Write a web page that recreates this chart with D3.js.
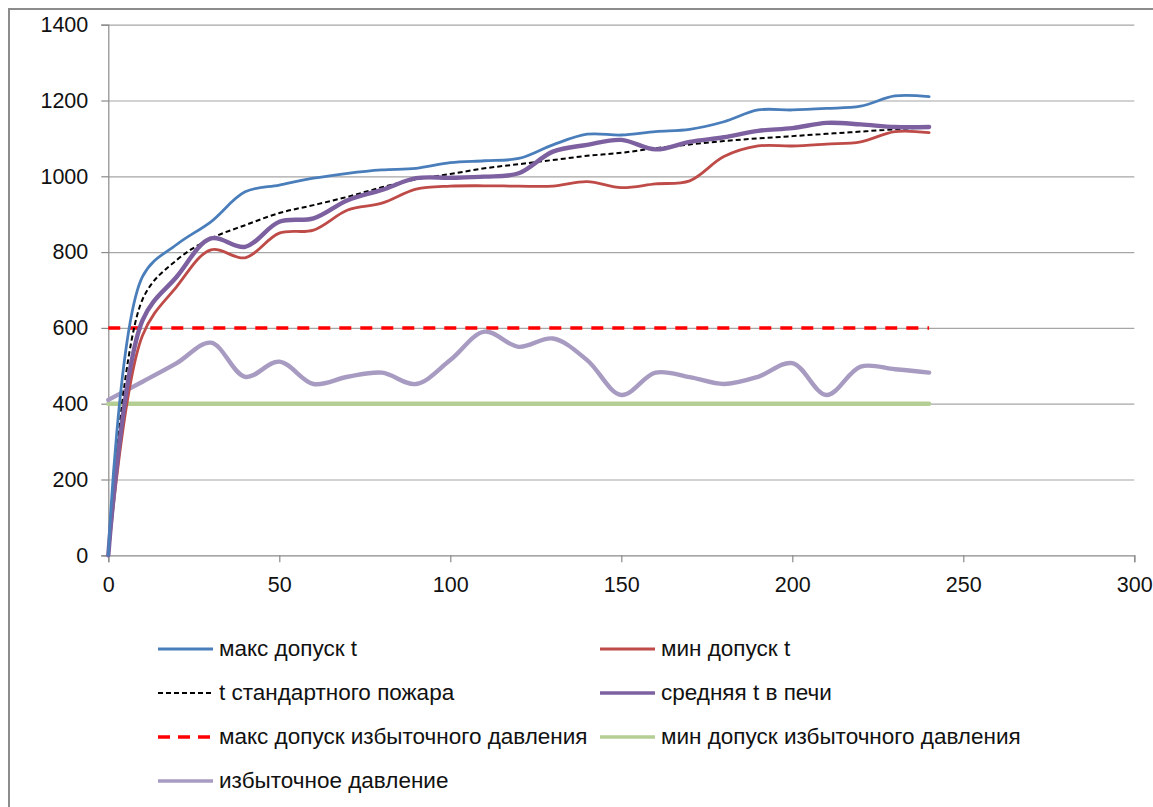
<!DOCTYPE html>
<html>
<head>
<meta charset="utf-8">
<script src="https://cdn.jsdelivr.net/npm/d3@7"></script>
<style>
  html, body { margin: 0; padding: 0; background: #fff; }
  svg { display: block; font-family: "Liberation Sans", Arial, sans-serif; }
</style>
</head>
<body>
<svg id="chart" width="1153" height="807"></svg>
<script>
// ---- data ----
const times = [0, 10, 20, 30, 40, 50, 60, 70, 80, 90, 100, 110, 120, 130, 140, 150, 160, 170, 180, 190, 200, 210, 220, 230, 240];
const maxTemp = [0, 735, 820, 880, 959, 977, 995, 1008, 1017, 1021, 1036, 1041, 1047, 1083, 1111, 1109, 1118, 1124, 1144, 1175, 1175, 1179, 1185, 1212, 1210];
const minTemp = [0, 580, 709, 806, 785, 850, 858, 911, 929, 966, 974, 975, 974, 974, 986, 970, 980, 988, 1052, 1080, 1080, 1085, 1091, 1118, 1115];
const stdFire = [0, 675, 779, 836, 871, 903, 924, 946, 971, 992, 1006, 1021, 1032, 1043, 1054, 1062, 1074, 1084, 1093, 1100, 1106, 1112, 1118, 1124, 1130];
const avgTemp = [0, 620, 735, 836, 814, 880, 889, 937, 964, 995, 996, 999, 1008, 1065, 1083, 1096, 1071, 1091, 1103, 1120, 1127, 1141, 1137, 1130, 1130];
const maxPressure = times.map(() => 600);
const minPressure = times.map(() => 400);
const pressure = [410, 458, 507, 561, 471, 511, 452, 471, 482, 452, 515, 590, 550, 572, 515, 423, 482, 470, 452, 471, 507, 423, 498, 491, 482];

const xTicks = [0, 50, 100, 150, 200, 250, 300];
const yTicks = [0, 200, 400, 600, 800, 1000, 1200, 1400];

const seriesNames = [
  "макс допуск t",
  "мин допуск t",
  "t стандартного пожара",
  "средняя t в печи",
  "макс допуск избыточного давления",
  "мин допуск избыточного давления",
  "избыточное давление"
];

// ---- styles ----
const series = [
  { name: seriesNames[0], values: maxTemp,     color: "#4A7EBB", width: 2.8, dash: null },
  { name: seriesNames[1], values: minTemp,     color: "#BE4B48", width: 2.8, dash: null },
  { name: seriesNames[2], values: stdFire,     color: "#000000", width: 2,   dash: "5,3" },
  { name: seriesNames[3], values: avgTemp,     color: "#7D60A0", width: 4.4, dash: null },
  { name: seriesNames[4], values: maxPressure, color: "#FF0000", width: 3.5, dash: "12,9" },
  { name: seriesNames[5], values: minPressure, color: "#B5CE94", width: 4.4, dash: null },
  { name: seriesNames[6], values: pressure,    color: "#A89BC2", width: 4.4, dash: null }
];
const drawOrder = [5, 4, 6, 2, 1, 3, 0];

const svg = d3.select("#chart");

// outer frame
svg.append("rect").attr("x", 9).attr("y", 9).attr("width", 1160).attr("height", 820)
  .attr("fill", "none").attr("stroke", "#8C8C8C").attr("stroke-width", 2);

const x = d3.scaleLinear().domain([0, 300]).range([108.3, 1134.3]);
const y = d3.scaleLinear().domain([0, 1400]).range([555.3, 24.7]);

// gridlines
svg.append("g").attr("transform", `translate(${x(0)},0)`)
  .call(d3.axisLeft(y).tickValues(yTicks.slice(1)).tickSize(-(x(300) - x(0))).tickFormat(""))
  .call(g => g.select(".domain").remove())
  .call(g => g.selectAll("line").attr("stroke", "#A6A6A6").attr("stroke-width", 1.2));

// y axis
svg.append("g").attr("transform", `translate(${x(0)},0)`)
  .call(d3.axisLeft(y).tickValues(yTicks).tickSize(7).tickPadding(13).tickFormat(d3.format("d")))
  .call(g => g.select(".domain").attr("stroke", "#8A8A8A").attr("stroke-width", 1.2))
  .call(g => g.selectAll("line").attr("stroke", "#8A8A8A").attr("stroke-width", 1.2))
  .call(g => g.selectAll("text").attr("font-size", 21.5).attr("fill", "#111")
    .attr("font-family", "'Liberation Sans', Arial, sans-serif"));

// x axis
svg.append("g").attr("transform", `translate(0,${y(0)})`)
  .call(d3.axisBottom(x).tickValues(xTicks).tickSize(7).tickPadding(14).tickFormat(d3.format("d")))
  .call(g => g.select(".domain").attr("stroke", "#8A8A8A").attr("stroke-width", 1.2))
  .call(g => g.selectAll("line").attr("stroke", "#8A8A8A").attr("stroke-width", 1.2))
  .call(g => g.selectAll("text").attr("font-size", 21.5).attr("fill", "#111")
    .attr("font-family", "'Liberation Sans', Arial, sans-serif"));

// lines
const line = d3.line()
  .x((d, i) => x(times[i]))
  .y(d => y(d))
  .curve(d3.curveCatmullRom.alpha(0.5));

drawOrder.forEach(k => {
  const s = series[k];
  svg.append("path")
    .attr("d", line(s.values))
    .attr("fill", "none")
    .attr("stroke", s.color)
    .attr("stroke-width", s.width)
    .attr("stroke-linecap", s.dash ? "butt" : "round")
    .attr("stroke-linejoin", "round")
    .attr("stroke-dasharray", s.dash);
});

// legend
const legendCols = [155, 597];
const legendRow0 = 649, legendRowGap = 44;
const legend = svg.append("g");
series.forEach((s, i) => {
  const col = i % 2, row = Math.floor(i / 2);
  const lx = legendCols[col], ly = legendRow0 + row * legendRowGap;
  legend.append("line")
    .attr("x1", lx + 3).attr("x2", lx + 58).attr("y1", ly).attr("y2", ly)
    .attr("stroke", s.color).attr("stroke-width", Math.min(s.width, 3.5))
    .attr("stroke-dasharray", s.dash ? (s.dash === "5,3" ? "5,3" : "12,8") : null);
  legend.append("text")
    .attr("x", lx + 64).attr("y", ly).attr("dy", "0.33em")
    .attr("font-size", 22.5).attr("fill", "#111")
    .attr("font-family", "'Liberation Sans', Arial, sans-serif")
    .text(s.name);
});
</script>
</body>
</html>
